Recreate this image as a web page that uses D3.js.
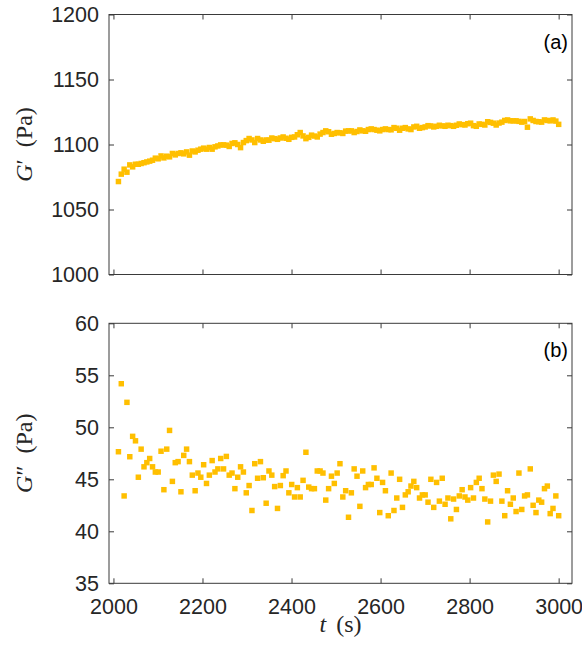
<!DOCTYPE html>
<html>
<head>
<meta charset="utf-8">
<script src="https://cdn.jsdelivr.net/npm/d3@7"></script>
<style>
  html, body { margin: 0; padding: 0; background: #ffffff; }
  svg { display: block; }
</style>
</head>
<body>
<svg id="chart" width="582" height="651"></svg>
<script>
// ---- data ----
const times = [
  2011.2, 2017.6, 2024.0, 2030.3, 2036.7, 2043.1, 2049.5, 2055.9, 2062.2, 2068.6,
  2075.0, 2081.4, 2087.8, 2094.1, 2100.5, 2106.9, 2113.3, 2119.7, 2126.0, 2132.4,
  2138.8, 2145.2, 2151.6, 2157.9, 2164.3, 2170.7, 2177.1, 2183.5, 2189.8, 2196.2,
  2202.6, 2209.0, 2215.4, 2221.7, 2228.1, 2234.5, 2240.9, 2247.3, 2253.6, 2260.0,
  2266.4, 2272.8, 2279.2, 2285.5, 2291.9, 2298.3, 2304.7, 2311.1, 2317.4, 2323.8,
  2330.2, 2336.6, 2343.0, 2349.3, 2355.7, 2362.1, 2368.5, 2374.9, 2381.2, 2387.6,
  2394.0, 2400.4, 2406.8, 2413.1, 2419.5, 2425.9, 2432.3, 2438.7, 2445.0, 2451.4,
  2457.8, 2464.2, 2470.6, 2476.9, 2483.3, 2489.7, 2496.1, 2502.5, 2508.8, 2515.2,
  2521.6, 2528.0, 2534.4, 2540.7, 2547.1, 2553.5, 2559.9, 2566.3, 2572.6, 2579.0,
  2585.4, 2591.8, 2598.2, 2604.5, 2610.9, 2617.3, 2623.7, 2630.1, 2636.4, 2642.8,
  2649.2, 2655.6, 2662.0, 2668.3, 2674.7, 2681.1, 2687.5, 2693.9, 2700.2, 2706.6,
  2713.0, 2719.4, 2725.8, 2732.1, 2738.5, 2744.9, 2751.3, 2757.7, 2764.0, 2770.4,
  2776.8, 2783.2, 2789.6, 2795.9, 2802.3, 2808.7, 2815.1, 2821.5, 2827.8, 2834.2,
  2840.6, 2847.0, 2853.4, 2859.7, 2866.1, 2872.5, 2878.9, 2885.3, 2891.6, 2898.0,
  2904.4, 2910.8, 2917.2, 2923.5, 2929.9, 2936.3, 2942.7, 2949.1, 2955.4, 2961.8,
  2968.2, 2974.6, 2981.0, 2987.3, 2993.7, 3000.1
];

const storageModulus = [
  1071.5, 1077.2, 1081.0, 1078.7, 1084.3, 1082.8, 1084.8, 1084.8, 1085.4, 1086.0,
  1086.6, 1087.2, 1087.9, 1089.5, 1089.0, 1091.2, 1089.7, 1091.0, 1090.5, 1093.1,
  1092.0, 1093.1, 1093.6, 1092.8, 1094.3, 1091.8, 1095.0, 1094.3, 1095.6, 1096.4,
  1097.2, 1096.4, 1097.7, 1096.4, 1098.2, 1098.9, 1099.7, 1099.7, 1099.5,
  1098.5, 1100.8, 1101.3, 1100.0, 1097.6, 1101.5, 1103.0, 1104.6, 1103.5, 1101.5,
  1104.6, 1103.5, 1102.5, 1103.5, 1103.3, 1105.0, 1104.5, 1104.0, 1105.0, 1105.8,
  1104.8, 1104.0, 1105.5, 1105.8, 1107.5, 1109.2, 1106.6, 1104.5, 1105.5, 1107.2,
  1106.5, 1105.8, 1108.0, 1109.2, 1110.5, 1109.8, 1107.9, 1108.5, 1109.2,
  1109.0, 1108.5, 1110.3, 1110.5, 1110.5, 1109.2, 1110.0, 1111.2, 1110.5, 1110.2,
  1111.5, 1112.0, 1111.5, 1111.0, 1110.5, 1111.5, 1112.0, 1111.5, 1111.3, 1113.0,
  1112.5, 1111.0, 1112.5, 1113.0, 1112.0, 1111.5, 1113.5, 1114.0, 1112.5, 1113.0,
  1113.5, 1114.5, 1114.3, 1113.5, 1114.0, 1114.8, 1114.3, 1114.0, 1114.8, 1114.5,
  1114.0, 1114.8, 1115.8, 1115.3, 1115.0, 1116.0, 1116.4, 1114.5, 1114.0, 1115.8,
  1115.5, 1115.0, 1117.5, 1117.0, 1116.4, 1115.0, 1116.5, 1117.2, 1118.5, 1118.9,
  1118.2, 1118.2, 1118.2, 1117.8, 1117.2, 1117.7, 1113.3, 1119.7, 1118.5, 1117.7,
  1117.5, 1117.2, 1118.9, 1118.5, 1118.2, 1118.9, 1118.0, 1115.5
];

const lossModulus = [
  47.65, 54.19, 43.4, 52.4, 47.17, 49.13, 48.7, 45.2, 47.9, 46.2,
  46.6, 47.0, 46.2, 45.7, 45.7, 47.7, 44.0, 47.9, 49.7, 44.8,
  46.6, 46.7, 43.8, 47.3, 47.9, 46.7, 45.4, 43.9, 45.6, 45.2,
  46.4, 44.6, 45.4, 46.8, 45.7, 46.0, 47.0, 46.0, 47.2, 45.4,
  45.6, 44.1, 45.2, 46.2, 45.7, 43.7, 44.4, 42.0, 46.5, 45.1,
  46.7, 45.15, 42.7, 45.8, 45.4, 44.3, 42.2, 44.4, 45.35, 45.8,
  43.7, 44.5, 43.3, 44.2, 43.3, 44.9, 47.6, 44.25, 44.1, 44.1,
  45.8, 45.8, 45.6, 43.0, 44.1, 45.3, 44.6, 45.6, 46.5,
  43.3, 43.9, 41.35, 43.7, 46.0, 45.3, 42.4, 45.8, 44.2, 44.5,
  44.5, 46.1, 45.1, 41.8, 44.7, 43.9, 41.5, 45.6, 42.0, 43.2,
  45.0, 42.3, 43.5, 43.8, 44.35, 44.8, 44.2, 43.2, 43.5, 43.5,
  42.8, 45.0, 42.3, 44.7, 42.9, 45.1, 42.6, 43.2, 41.2, 43.1,
  42.1, 43.4, 44.0, 43.3, 43.0, 44.2, 43.2, 44.7, 45.1, 44.1,
  43.1, 40.9, 42.9, 45.4, 44.8, 45.5, 42.9, 41.5, 43.9, 42.6,
  43.2, 41.9, 45.6, 42.1, 43.4, 43.5, 46.0, 42.5, 41.8, 43.0,
  42.8, 44.1, 44.35, 41.7, 42.2, 43.4, 41.5
];

const xTicks = [2000, 2200, 2400, 2600, 2800, 3000];
const yTicksTop = [1000, 1050, 1100, 1150, 1200];
const yTicksBottom = [35, 40, 45, 50, 55, 60];
const xDomain = [1990, 3030];
const yDomainTop = [1000, 1200];
const yDomainBottom = [35, 60];

// ---- layout ----
const svg = d3.select("#chart");
const left = 109, right = 572;
const panels = [
  { top: 14.5, bottom: 274.5, values: storageModulus, yDomain: yDomainTop, yTicks: yTicksTop,
    label: "(a)", prime: "\u2032", showX: false },
  { top: 323.3, bottom: 583.3, values: lossModulus, yDomain: yDomainBottom, yTicks: yTicksBottom,
    label: "(b)", prime: "\u2033", showX: true }
];

const axisColor = "#3a3a3a";
const textColor = "#262626";
const markerColor = "#FFBF00";
const sansFont = "'Liberation Sans', Arial, Helvetica, sans-serif";
const serifFont = "'Liberation Serif', 'Times New Roman', serif";

const x = d3.scaleLinear().domain(xDomain).range([left, right]);

function styleAxis(g, showLabels) {
  g.select(".domain").remove();
  g.selectAll(".tick line").attr("stroke", axisColor).attr("stroke-width", 1);
  g.selectAll(".tick text")
    .attr("fill", textColor)
    .style("font-family", sansFont)
    .style("font-size", "21.5px");
  if (!showLabels) g.selectAll(".tick text").remove();
}

panels.forEach(p => {
  const y = d3.scaleLinear().domain(p.yDomain).range([p.bottom, p.top]);

  // markers
  const symbol = d3.symbol().type(d3.symbolSquare).size(30);
  svg.append("g")
    .selectAll("path")
    .data(p.values)
    .join("path")
    .attr("d", symbol)
    .attr("transform", (d, i) => `translate(${x(times[i])},${y(d)})`)
    .attr("fill", markerColor);

  // axes (ticks pointing inward on all four sides)
  svg.append("g")
    .attr("transform", `translate(0,${p.bottom})`)
    .call(d3.axisBottom(x).tickValues(xTicks).tickSize(-5).tickPadding(15).tickFormat(d3.format("d")))
    .call(g => styleAxis(g, p.showX));
  svg.append("g")
    .attr("transform", `translate(0,${p.top})`)
    .call(d3.axisTop(x).tickValues(xTicks).tickSize(-5))
    .call(g => styleAxis(g, false));
  svg.append("g")
    .attr("transform", `translate(${left},0)`)
    .call(d3.axisLeft(y).tickValues(p.yTicks).tickSize(-5).tickPadding(10).tickFormat(d3.format("d")))
    .call(g => styleAxis(g, true));
  svg.append("g")
    .attr("transform", `translate(${right},0)`)
    .call(d3.axisRight(y).tickValues(p.yTicks).tickSize(-5))
    .call(g => styleAxis(g, false));

  // frame
  svg.append("rect")
    .attr("x", left).attr("y", p.top)
    .attr("width", right - left).attr("height", p.bottom - p.top)
    .attr("fill", "none").attr("stroke", axisColor).attr("stroke-width", 1);

  // y label
  const cy = (p.top + p.bottom) / 2;
  const yl = svg.append("text")
    .attr("transform", `translate(32,${cy}) rotate(-90)`)
    .attr("text-anchor", "middle")
    .attr("fill", textColor)
    .style("font-family", serifFont)
    .style("font-size", "24px")
    .style("word-spacing", "6px");
  yl.append("tspan").style("font-style", "italic").text("G");
  yl.append("tspan").text(p.prime + " (Pa)");

  // panel label
  svg.append("text")
    .attr("x", 568).attr("y", p.top + 34)
    .attr("text-anchor", "end")
    .attr("fill", "#000")
    .style("font-family", sansFont)
    .style("font-size", "20px")
    .text(p.label);
});

// x label
const xl = svg.append("text")
  .attr("x", (left + right) / 2).attr("y", 632)
  .attr("text-anchor", "middle")
  .attr("fill", textColor)
  .style("font-family", serifFont)
  .style("font-size", "24px")
  .style("word-spacing", "4px");
xl.append("tspan").style("font-style", "italic").text("t");
xl.append("tspan").text(" (s)");
</script>
</body>
</html>
